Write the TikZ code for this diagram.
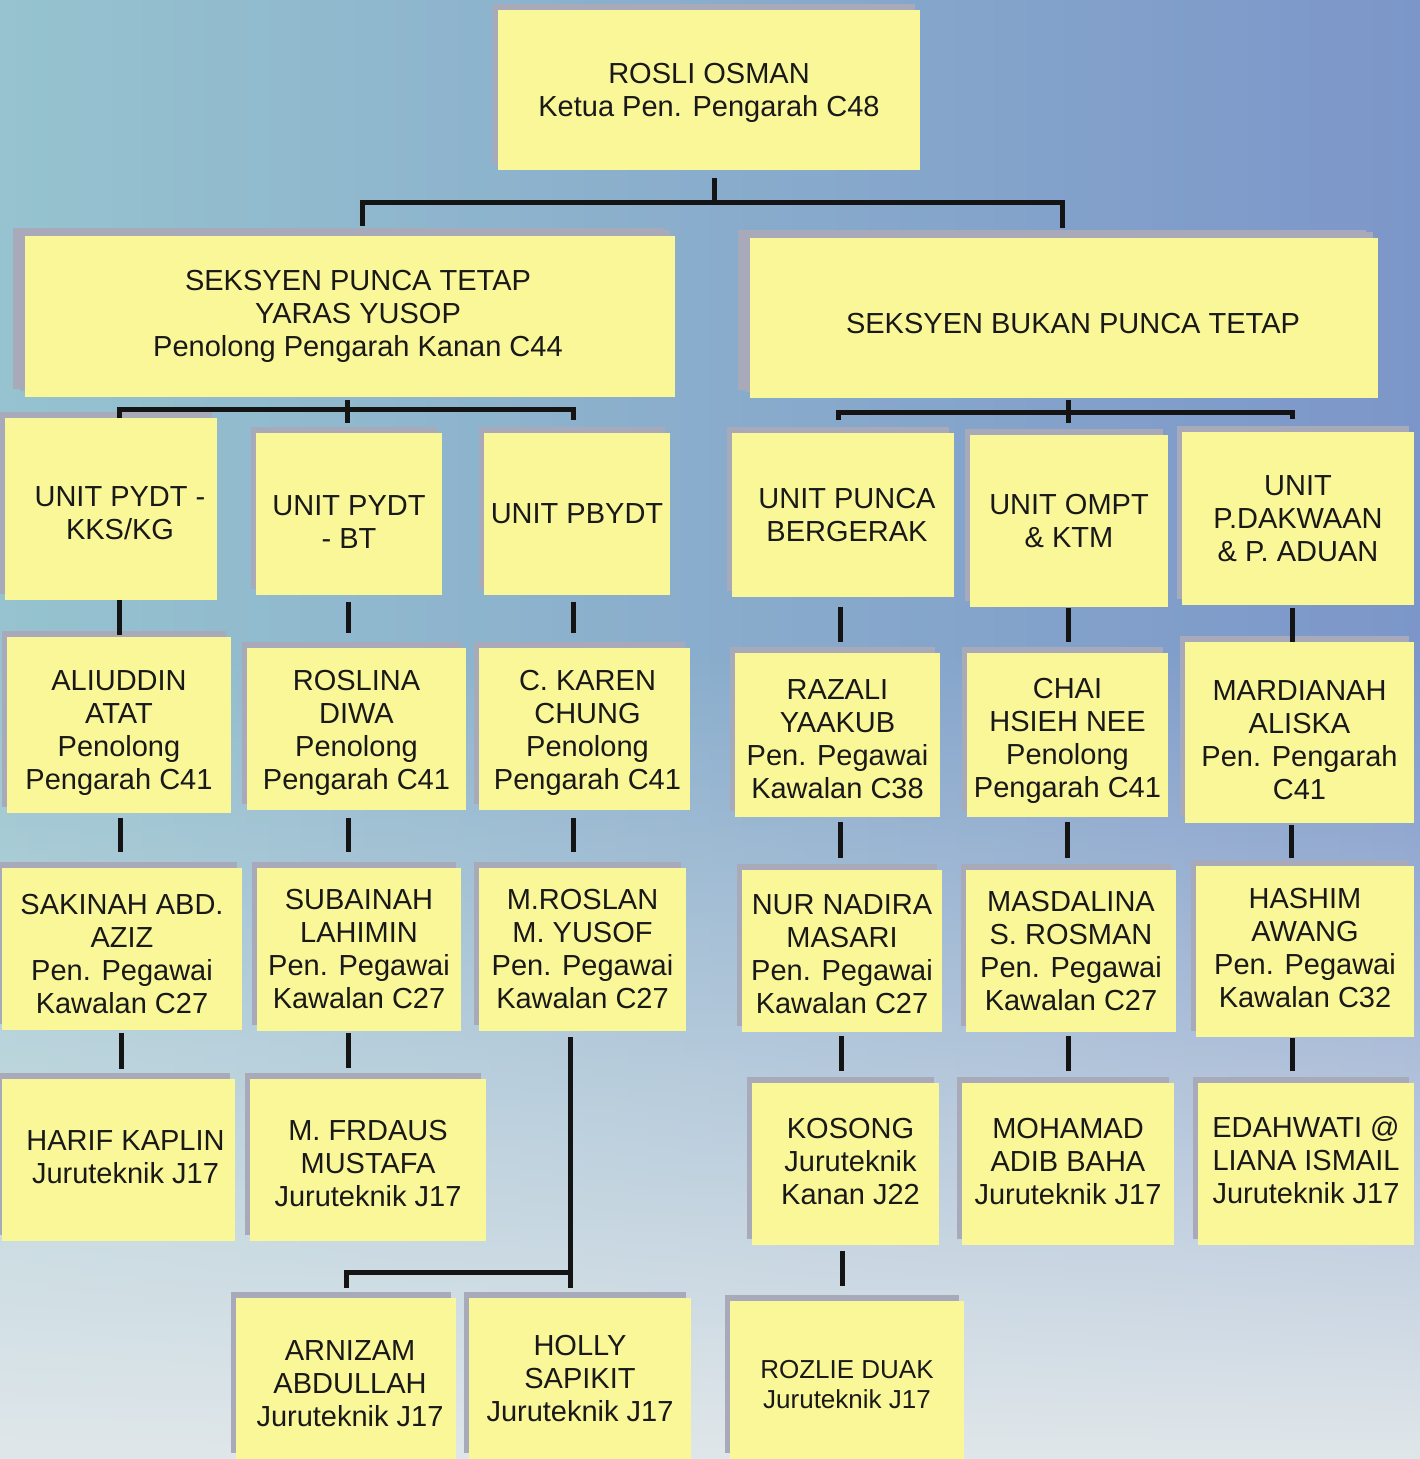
\documentclass[tikz,border=0pt]{standalone}
\usepackage{fontspec}
\setmainfont{Liberation Sans}
\usetikzlibrary{shadows,fadings}
\definecolor{boxyellow}{RGB}{250,247,152}
\definecolor{shadowc}{RGB}{168,170,186}
\definecolor{txtc}{RGB}{25,25,25}
\definecolor{bgL}{RGB}{150,195,207}
\definecolor{bgM}{RGB}{145,187,206}
\definecolor{bgR}{RGB}{124,150,201}
\definecolor{bgB}{RGB}{224,231,234}
\newcommand\orgnode[7][]{\node[orgbox,#1,minimum width={(#5-#3)*1pt},minimum height={(#6-#4)*1pt}] (#2) at ({(#3+#5)/2},{(#4+#6)/2}) {#7};}
\newcommand\vlink[5]{\draw[conn, shorten <=#4pt, shorten >=#5pt] ([xshift=#3pt]#1.south) -- ([xshift=#3pt]#1.south |- #2.north);}
\newcommand\tp[1]{\rule{0pt}{#1pt}}
\newcommand\bt[1]{\rule[-#1pt]{0pt}{#1pt}}
\newcommand\hs[1]{\hspace*{#1pt}}
\begin{document}
\begin{tikzpicture}[x=1pt,y=-1pt,
  orgbox/.style={fill=boxyellow, inner sep=0pt, align=center, text=txtc,
    font=\fontsize{29}{33}\selectfont,
    general shadow={fill=shadowc, shadow xshift=-5pt, shadow yshift=6pt}},
  bigshadow/.style={general shadow={fill=shadowc, shadow xshift=-12pt, shadow yshift=8pt}},
  conn/.style={line width=5pt, draw=black!92}]
\useasboundingbox (0,0) rectangle (1420,1459);
\shade[left color=bgL, middle color=bgM, right color=bgR] (0,0) rectangle (1420,1459);
\fill[bgB, path fading=north] (0,650) rectangle (1420,1459);

\orgnode{rosli}{498}{10}{920}{170}{\tp{27}ROSLI OSMAN\\Ketua Pen. Pengarah C48}
\orgnode[bigshadow]{spt}{25}{236}{675}{397}{\hs{16}SEKSYEN PUNCA TETAP\\\hs{16}YARAS YUSOP\\\hs{16}Penolong Pengarah Kanan C44}
\orgnode[bigshadow]{sbpt}{750}{238}{1378}{398}{\tp{31}\hs{18}SEKSYEN BUKAN PUNCA TETAP}
\orgnode{uA}{5}{418}{217}{600}{\tp{29}\hs{18}UNIT PYDT -\\\hs{18}KKS/KG}
\orgnode{uB}{256}{433}{442}{595}{\tp{35}UNIT PYDT\\- BT}
\orgnode{uC}{484}{433}{670}{595}{UNIT PBYDT}
\orgnode{uD}{732}{433}{954}{597}{\hs{8}UNIT PUNCA\\\hs{8}BERGERAK}
\orgnode{uE}{970}{435}{1168}{607}{UNIT OMPT\\\& KTM}
\orgnode{uF}{1182}{432}{1414}{605}{UNIT\\P.DAKWAAN\\\& P. ADUAN}
\orgnode{pA}{7}{637}{231}{813}{\tp{35}ALIUDDIN\\ATAT\\Penolong\\Pengarah C41}
\orgnode{pB}{247}{648}{466}{810}{\tp{27}ROSLINA\\DIWA\\Penolong\\Pengarah C41}
\orgnode{pC}{479}{648}{690}{810}{\tp{27}\hs{6}C. KAREN\\\hs{6}CHUNG\\\hs{6}Penolong\\\hs{6}Pengarah C41}
\orgnode{pD}{735}{653}{940}{817}{\tp{29}RAZALI\\YAAKUB\\Pen. Pegawai\\Kawalan C38}
\orgnode{pE}{967}{653}{1168}{817}{\tp{31}CHAI\\HSIEH NEE\\Penolong\\Pengarah C41}
\orgnode{pF}{1185}{642}{1414}{823}{\tp{35}MARDIANAH\\ALISKA\\Pen. Pengarah\\C41}
\orgnode{sA}{2}{868}{242}{1030}{\tp{31}SAKINAH ABD.\\AZIZ\\Pen. Pegawai\\Kawalan C27}
\orgnode{sB}{257}{868}{461}{1031}{SUBAINAH\\LAHIMIN\\Pen. Pegawai\\Kawalan C27}
\orgnode{sC}{479}{868}{686}{1031}{M.ROSLAN\\M. YUSOF\\Pen. Pegawai\\Kawalan C27}
\orgnode{sD}{742}{870}{942}{1032}{\tp{27}NUR NADIRA\\MASARI\\Pen. Pegawai\\Kawalan C27}
\orgnode{sE}{966}{870}{1176}{1032}{MASDALINA\\S. ROSMAN\\Pen. Pegawai\\Kawalan C27}
\orgnode{sF}{1196}{866}{1414}{1037}{HASHIM\\AWANG\\Pen. Pegawai\\Kawalan C32\bt{8}}
\orgnode{tA}{2}{1079}{235}{1241}{\hs{14}HARIF KAPLIN\\\hs{14}Juruteknik J17\bt{6}}
\orgnode{tB}{250}{1079}{486}{1241}{\tp{27}M. FRDAUS\\MUSTAFA\\Juruteknik J17}
\orgnode{tD}{752}{1083}{939}{1245}{\hs{10}KOSONG\\\hs{10}Juruteknik\\\hs{10}Kanan J22\bt{6}}
\orgnode{tE}{962}{1083}{1174}{1245}{MOHAMAD\\ADIB BAHA\\Juruteknik J17\bt{6}}
\orgnode{tF}{1198}{1083}{1414}{1245}{EDAHWATI @\\LIANA ISMAIL\\Juruteknik J17\bt{8}}
\orgnode{qA}{236}{1298}{456}{1459}{\tp{31}\hs{8}ARNIZAM\\\hs{8}ABDULLAH\\\hs{8}Juruteknik J17}
\orgnode{qB}{469}{1298}{691}{1459}{HOLLY\\SAPIKIT\\Juruteknik J17}
\orgnode[font=\fontsize{26}{30}\selectfont]{qD}{730}{1301}{964}{1459}{\tp{27}ROZLIE DUAK\\Juruteknik J17}

% top level
\draw[conn] ([shift={(5,8)}]rosli.south) -- ++(0,24) coordinate (jTop);
\draw[conn] ([shift={(12,-10)}]spt.north) |- (jTop) -| ([shift={(-2,-10)}]sbpt.north);
% left section bracket
\draw[conn] ([shift={(-3,3)}]spt.south) -- ++(0,23);
\draw[conn] ([xshift=8pt]uA.north) -- ++(0,-8) -| ([shift={(-4,-13)}]uC.north);
% right section bracket
\draw[conn] ([shift={(4,2)}]sbpt.south) -- ++(0,23);
\draw[conn] ([shift={(-5,-13)}]uD.north) -- ++(0,-7) -| ([shift={(-6,-13)}]uF.north);

% vertical links
\vlink{uA}{pA}{8}{0}{2}
\vlink{uB}{pB}{-1}{7}{15}
\vlink{uC}{pC}{-4}{7}{15}
\vlink{uD}{pD}{-3}{10}{11}
\vlink{uE}{pE}{-1}{1}{11}
\vlink{uF}{pF}{-6}{3}{0}
\vlink{pA}{sA}{1}{5}{16}
\vlink{pB}{sB}{-8.5}{8}{16}
\vlink{pC}{sC}{-11.5}{8}{16}
\vlink{pD}{sD}{2.5}{5}{12}
\vlink{pE}{sE}{-0.5}{5}{12}
\vlink{pF}{sF}{-8.5}{2}{8}
\vlink{sA}{tA}{-1}{3}{10}
\vlink{sB}{tB}{-11}{2}{11}
\vlink{sD}{tD}{-1}{4}{12}
\vlink{sE}{tE}{-3}{4}{12}
\vlink{sF}{tF}{-13}{1}{12}
\vlink{tD}{qD}{-3.5}{6}{15}
\vlink{sC}{qB}{-12.5}{6}{10}
\draw[conn, shorten >=10pt] ([shift={(-10,-25)}]qB.north) -| (qA.north);
\end{tikzpicture}
\end{document}
